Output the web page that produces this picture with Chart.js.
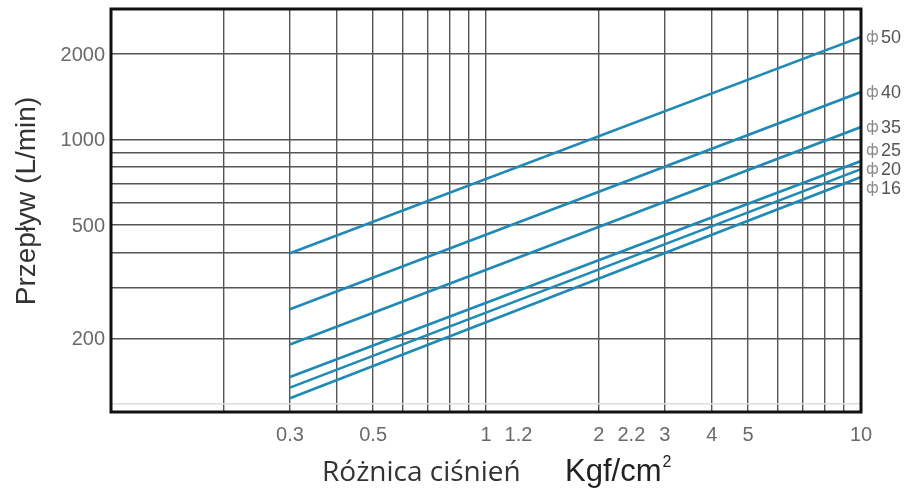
<!DOCTYPE html>
<html>
<head>
<meta charset="utf-8">
<script src="https://cdn.jsdelivr.net/npm/chart.js@4.4.0/dist/chart.umd.min.js"></script>
<style>
  body { margin: 0; background: #fff; }
  #wrap { width: 909px; height: 495px; position: relative; }
</style>
</head>
<body>
<div id="wrap"><canvas id="myChart"></canvas></div>
<script>
// pressure difference (Kgf/cm2) at both ends of each line
var pressure = [0.3, 10];

// flow (L/min) per pipe size, read at 0.3 and at 10 Kgf/cm2
var sizes = ['50', '40', '35', '25', '20', '16'];
var flow50 = [398, 2296];
var flow40 = [253, 1470];
var flow35 = [190, 1107];
var flow25 = [146, 840];
var flow20 = [134, 787];
var flow16 = [123, 738];

// ticks and grid
var xGrid = [0.2, 0.3, 0.4, 0.5, 0.6, 0.7, 0.8, 0.9, 1, 2, 3, 4, 5, 6, 7, 8, 9, 10];
var xLabels = [0.3, 0.5, 1, 1.2, 2, 2.2, 3, 4, 5, 10];
var yGrid = [200, 300, 400, 500, 600, 700, 800, 900, 1000, 2000];
var yLabels = [200, 500, 1000, 2000];
var yFaint = [118];

var flows = [flow50, flow40, flow35, flow25, flow20, flow16];

var tickFont = '20px "Liberation Sans", Arial, sans-serif';
var tickColor = '#6a6a6a';

function makePoints(vals){
    var pts = [];
    for (var i = 0; i < pressure.length; i++) {
        pts.push({ x: pressure[i], y: vals[i] });
    }
    return pts;
}

var datasets = [];
for (var i = 0; i < sizes.length; i++) {
    datasets.push({
        label: 'ф' + sizes[i],
        data: makePoints(flows[i]),
        borderColor: '#1f8ab6',
        borderWidth: 2.6,
        pointRadius: 0,
        fill: false
    });
}

function uniq(arr){
    return arr.filter(function(v, i){ return arr.indexOf(v) == i; }).sort(function(a, b){ return a - b; });
}

// frame, tick labels, axis titles and size labels
var extras = {
    id: 'extras',
    afterDraw: function(chart){
        var ctx = chart.ctx;
        var a = chart.chartArea;
        var xs = chart.scales.x;
        var ysc = chart.scales.y;

        ctx.save();
        ctx.strokeStyle = '#111';
        ctx.lineWidth = 3;
        ctx.strokeRect(a.left, a.top, a.right - a.left, a.bottom - a.top);

        // y tick labels
        ctx.fillStyle = tickColor;
        ctx.font = tickFont;
        ctx.textAlign = 'right';
        ctx.textBaseline = 'middle';
        yLabels.forEach(function(v){
            ctx.fillText(String(v), a.left - 6, ysc.getPixelForValue(v) + 1);
        });

        // x tick labels, nudged right where they would run into each other
        ctx.textAlign = 'center';
        var prevRight = -1000;
        xLabels.forEach(function(v){
            var t = String(v);
            var w = ctx.measureText(t).width;
            var c = xs.getPixelForValue(v);
            if (c - w / 2 < prevRight + 13) {
                c = prevRight + 13 + w / 2;
            }
            ctx.fillText(t, c, 435);
            prevRight = c + w / 2;
        });

        // y title
        ctx.save();
        ctx.translate(27, 201);
        ctx.rotate(-Math.PI / 2);
        ctx.fillStyle = '#333';
        ctx.font = '28px "Liberation Sans", Arial, sans-serif';
        ctx.textAlign = 'center';
        ctx.textBaseline = 'middle';
        ctx.fillText('Przepływ (L/min)', 0, 0);
        ctx.restore();

        // x title
        ctx.fillStyle = '#333';
        ctx.font = '28px "Open Sans", sans-serif';
        ctx.textAlign = 'left';
        ctx.textBaseline = 'alphabetic';
        ctx.fillText('Różnica ciśnień', 322, 481);
        ctx.fillStyle = '#222';
        ctx.font = '31px "Liberation Sans", Arial, sans-serif';
        ctx.fillText('Kgf/cm', 565, 481);
        var w = ctx.measureText('Kgf/cm').width;
        ctx.font = '16px "Liberation Sans", Arial, sans-serif';
        ctx.fillText('2', 565 + w + 1, 467);

        // size labels at line ends, spread apart so they don't overlap
        var ys = [];
        chart.data.datasets.forEach(function(ds, idx){
            var pts = chart.getDatasetMeta(idx).data;
            ys.push(pts[pts.length - 1].y);
        });
        var gap = 19;
        for (var k = 0; k < 60; k++) {
            for (var j = 1; j < ys.length; j++) {
                var d = ys[j] - ys[j - 1];
                if (d < gap) {
                    ys[j - 1] -= (gap - d) / 2;
                    ys[j] += (gap - d) / 2;
                }
            }
        }
        ctx.textBaseline = 'middle';
        for (var n = 0; n < sizes.length; n++) {
            ctx.fillStyle = '#888';
            ctx.font = '15px "DejaVu Sans", sans-serif';
            ctx.fillText('ф', a.right + 5, ys[n] + 1);
            ctx.fillStyle = '#555';
            ctx.font = '18px "Liberation Sans", Arial, sans-serif';
            ctx.fillText(sizes[n], a.right + 20, ys[n] + 1);
        }
        ctx.restore();
    }
};

var ctx = document.getElementById('myChart').getContext('2d');

var myChart = new Chart(ctx, {
    type: 'line',
    data: { datasets: datasets },
    plugins: [extras],
    options: {
        responsive: true,
        maintainAspectRatio: false,
        animation: false,
        layout: { padding: { top: 9, right: 48, left: 0, bottom: 0 } },
        plugins: {
            legend: { display: false },
            tooltip: { enabled: false }
        },
        scales: {
            x: {
                type: 'logarithmic',
                min: 0.1,
                max: 10,
                afterFit: function(s){ s.height = 83; },
                afterBuildTicks: function(s){
                    s.ticks = uniq(xGrid.concat(xLabels)).map(function(v){ return { value: v }; });
                },
                border: { display: false },
                grid: {
                    drawTicks: false,
                    lineWidth: 1.4,
                    color: function(c){
                        return xGrid.indexOf(c.tick.value) >= 0 ? '#555' : 'rgba(0,0,0,0)';
                    }
                },
                ticks: { display: false, autoSkip: false }
            },
            y: {
                type: 'logarithmic',
                min: 110,
                max: 2880,
                afterFit: function(s){ s.width = 111; },
                afterBuildTicks: function(s){
                    s.ticks = uniq(yGrid.concat(yFaint)).map(function(v){ return { value: v }; });
                },
                border: { display: false },
                grid: {
                    drawTicks: false,
                    lineWidth: 1.4,
                    color: function(c){
                        return yFaint.indexOf(c.tick.value) >= 0 ? '#dddddd' : '#555';
                    }
                },
                ticks: { display: false, autoSkip: false }
            }
        }
    }
});
</script>
</body>
</html>
